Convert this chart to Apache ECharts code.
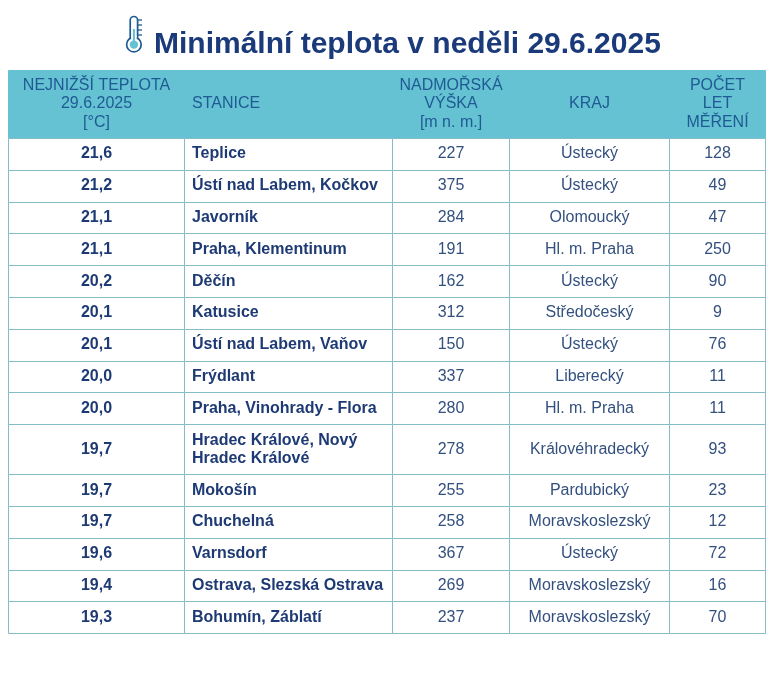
<!DOCTYPE html>
<html>
<head>
<meta charset="UTF-8">
<title>Minimální teplota</title>
<style>
  html, body { margin: 0; padding: 0; background: #fff; }
  #chart { width: 774px; height: 675px; }
</style>
<script src="https://cdn.jsdelivr.net/npm/echarts@6/dist/echarts.min.js"></script>
</head>
<body>
<div id="chart"></div>
<script>
var titleText = 'Minimální teplota v neděli 29.6.2025';
var headers = ['NEJNIŽŠÍ TEPLOTA\n29.6.2025\n[°C]', 'STANICE', 'NADMOŘSKÁ\nVÝŠKA\n[m n. m.]', 'KRAJ', 'POČET\nLET\nMĚŘENÍ'];
var temps = ['21,6', '21,2', '21,1', '21,1', '20,2', '20,1', '20,1', '20,0', '20,0', '19,7', '19,7', '19,7', '19,6', '19,4', '19,3'];
var stations = ['Teplice', 'Ústí nad Labem, Kočkov', 'Javorník', 'Praha, Klementinum', 'Děčín', 'Katusice', 'Ústí nad Labem, Vaňov', 'Frýdlant', 'Praha, Vinohrady - Flora', 'Hradec Králové, Nový\nHradec Králové', 'Mokošín', 'Chuchelná', 'Varnsdorf', 'Ostrava, Slezská Ostrava', 'Bohumín, Záblatí'];
var elevations = [227, 375, 284, 191, 162, 312, 150, 337, 280, 278, 255, 258, 367, 269, 237];
var regions = ['Ústecký', 'Ústecký', 'Olomoucký', 'Hl. m. Praha', 'Ústecký', 'Středočeský', 'Ústecký', 'Liberecký', 'Hl. m. Praha', 'Královéhradecký', 'Pardubický', 'Moravskoslezský', 'Ústecký', 'Moravskoslezský', 'Moravskoslezský'];
var years = [128, 49, 47, 250, 90, 9, 76, 11, 11, 93, 23, 12, 72, 16, 70];

// table layout, in axis units (1 unit = 1 px)
var colWidths = [176, 208, 117, 160, 96];
var headerHeight = 68;
var oneLineRow = 31.8;
var twoLineRow = 50;

var colEdges = [0];
colWidths.forEach(function (w, i) { colEdges.push(colEdges[i] + w); });
var rowEdges = [0, headerHeight];
stations.forEach(function (s, i) {
  rowEdges.push(rowEdges[i + 1] + (s.indexOf('\n') >= 0 ? twoLineRow : oneLineRow));
});

var cells = [];
headers.forEach(function (h, c) { cells.push([c, 0, h]); });
stations.forEach(function (s, i) {
  var row = [temps[i], s, elevations[i], regions[i], years[i]];
  row.forEach(function (v, c) { cells.push([c, i + 1, String(v)]); });
});

function renderCell(params, api) {
  var c = api.value(0), r = api.value(1);
  var text = cells[params.dataIndex][2];
  var p0 = api.coord([colEdges[c], rowEdges[r]]);
  var p1 = api.coord([colEdges[c + 1], rowEdges[r + 1]]);
  var isHead = r === 0;
  var isStation = c === 1;
  var bold = !isHead && c < 2;
  var w = p1[0] - p0[0], h = p1[1] - p0[1];
  return {
    type: 'group',
    children: [{
      type: 'rect',
      shape: { x: Math.round(p0[0]) + 0.5, y: Math.round(p0[1]) + 0.5, width: Math.round(p1[0]) - Math.round(p0[0]), height: Math.round(p1[1]) - Math.round(p0[1]) },
      style: isHead ? { fill: '#65c2d2', stroke: '#65c2d2', lineWidth: 1 } : { fill: '#ffffff', stroke: '#85bcc8', lineWidth: 1 }
    }, {
      type: 'text',
      z2: 5,
      style: {
        x: isStation ? p0[0] + 8 : p0[0] + w / 2 + 0.5,
        y: p0[1] + h / 2,
        text: text,
        align: isStation ? 'left' : 'center',
        verticalAlign: 'middle',
        fill: isHead ? '#1f5a94' : (bold ? '#1e3a74' : '#33507f'),
        fontFamily: 'Liberation Sans',
        fontSize: 16,
        fontWeight: bold ? 'bold' : 'normal',
        lineHeight: isHead ? 18.5 : 18
      }
    }]
  };
}

var chart = echarts.init(document.getElementById('chart'), null, { renderer: 'canvas' });
chart.setOption({
  animation: false,
  backgroundColor: '#ffffff',
  title: {
    text: titleText,
    left: 154,
    top: 30,
    padding: 0,
    textStyle: { color: '#1a3a7a', fontFamily: 'Liberation Sans', fontSize: 30, fontWeight: 'bold' }
  },
  grid: { left: 8, top: 70, width: 757, height: rowEdges[rowEdges.length - 1] },
  xAxis: { type: 'value', min: 0, max: 757, show: false },
  yAxis: { type: 'value', min: 0, max: rowEdges[rowEdges.length - 1], inverse: true, show: false },
  series: [{
    type: 'custom',
    coordinateSystem: 'cartesian2d',
    data: cells,
    encode: { x: 0, y: 1 },
    renderItem: renderCell,
    silent: true
  }],
  // thermometer icon beside the title
  graphic: [{
    type: 'group',
    x: 126,
    y: 16,
    children: [
      { type: 'rect', shape: { x: 4.2, y: 0.5, width: 7.4, height: 28, r: 3.7 }, style: { fill: '#ffffff', stroke: '#1f5a94', lineWidth: 1.7 } },
      { type: 'circle', shape: { cx: 7.9, cy: 28.6, r: 7.3 }, style: { fill: '#ffffff', stroke: '#1f5a94', lineWidth: 1.7 } },
      { type: 'rect', shape: { x: 5.1, y: 20, width: 5.6, height: 6 }, style: { fill: '#ffffff' } },
      { type: 'circle', shape: { cx: 7.9, cy: 28.6, r: 4.2 }, style: { fill: '#65c2d2' } },
      { type: 'rect', shape: { x: 6.9, y: 13, width: 2, height: 13 }, style: { fill: '#65c2d2' } },
      { type: 'line', shape: { x1: 11.6, y1: 4, x2: 16, y2: 4 }, style: { stroke: '#1f5a94', lineWidth: 1.3 } },
      { type: 'line', shape: { x1: 11.6, y1: 9, x2: 16, y2: 9 }, style: { stroke: '#1f5a94', lineWidth: 1.3 } },
      { type: 'line', shape: { x1: 11.6, y1: 14, x2: 16, y2: 14 }, style: { stroke: '#1f5a94', lineWidth: 1.3 } },
      { type: 'line', shape: { x1: 11.6, y1: 19, x2: 16, y2: 19 }, style: { stroke: '#1f5a94', lineWidth: 1.3 } }
    ]
  }]
});
</script>
</body>
</html>
